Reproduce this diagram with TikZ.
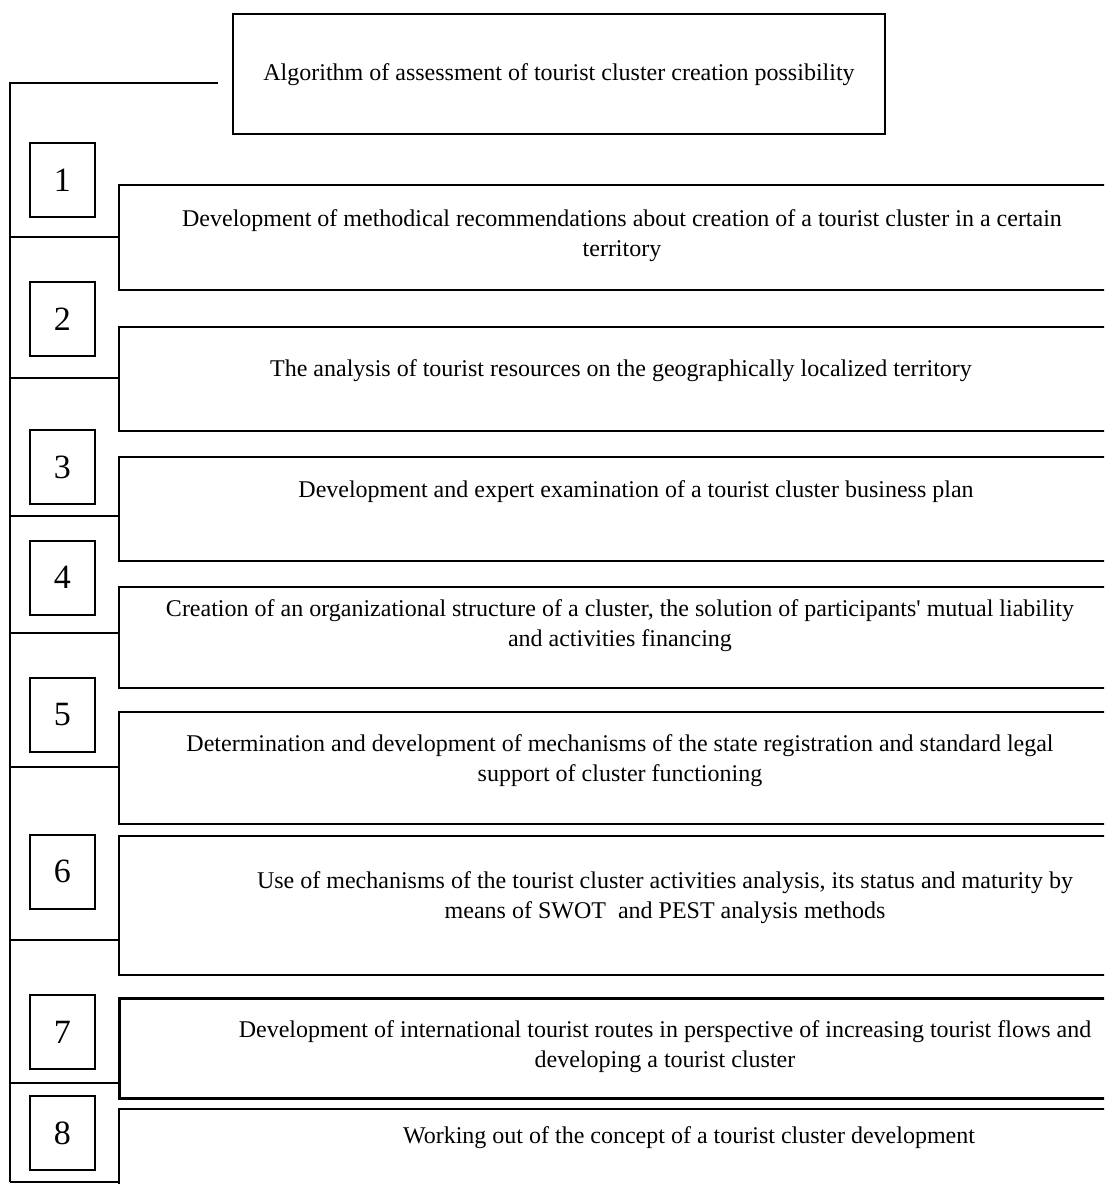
\documentclass[tikz,border=0pt]{standalone}
\usepackage{fontspec}
\setmainfont{Liberation Serif}
\usetikzlibrary{positioning}

\tikzset{
  frameLine/.style={line width=1pt},
  titleBox/.style={draw, frameLine, minimum width=326pt, minimum height=60pt,
    font=\fontsize{12}{15}\selectfont},
  stageBox/.style={draw, frameLine, anchor=north west, minimum width=560pt, inner sep=0pt},
  numBox/.style={draw, frameLine, minimum width=32.5pt, minimum height=37pt,
    font=\fontsize{17}{17}\selectfont},
  stageText/.style={align=center, inner sep=0pt, font=\fontsize{12}{15}\selectfont}
}

\begin{document}
\begin{tikzpicture}[x=0.5pt,y=-0.5pt]
  \useasboundingbox (0,0) rectangle (1104,1184);
  \clip (0,0) rectangle (1104,1184);
  % Title
  \node[titleBox, text depth=2pt] (title) at (559,74) {Algorithm of assessment of tourist cluster creation possibility};
  % Stages
  \node[stageBox, minimum height=52.5pt] (s1) at (118,184) {};
  \node[stageBox, minimum height=52pt] (s2) at (118,326) {};
  \node[stageBox, minimum height=52pt] (s3) at (118,456) {};
  \node[stageBox, minimum height=50.5pt] (s4) at (118,586) {};
  \node[stageBox, minimum height=56pt] (s5) at (118,711) {};
  \node[stageBox, minimum height=69.5pt] (s6) at (118,835) {};
  \node[stageBox, minimum height=50pt, line width=1.6pt] (s7) at (118,997) {};
  \node[stageBox, minimum height=100pt] (s8) at (118,1108) {};
  \node[stageText] (t1) at (622,236) {Development of methodical recommendations about creation of a tourist cluster in a certain\\territory};
  \node[stageText] (t2) at (621,371) {The analysis of tourist resources on the geographically localized territory};
  \node[stageText] (t3) at (636,492) {Development and expert examination of a tourist cluster business plan};
  \node[stageText] (t4) at (620,626) {Creation of an organizational structure of a cluster, the solution of participants\textquotesingle{} mutual liability\\and activities financing};
  \node[stageText] (t5) at (620,761) {Determination and development of mechanisms of the state registration and standard legal\\support of cluster functioning};
  \node[stageText] (t6) at (665,898) {Use of mechanisms of the tourist cluster activities analysis, its status and maturity by\\means of SWOT\ \ and PEST analysis methods};
  \node[stageText] (t7) at (665,1047) {Development of international tourist routes in perspective of increasing tourist flows and\\developing a tourist cluster};
  \node[stageText] (t8) at (689,1138) {Working out of the concept of a tourist cluster development};
  % Numbers
  \foreach \n/\y in {1/180,2/319,3/467,4/577.5,5/714.5,6/871.5,7/1032,8/1133}
    \node[numBox] (n\n) at (62.5,\y) {\n};
  % Spine
  \coordinate (topEnd) at (218,83);
  \coordinate (spineTop) at (10,83);
  \coordinate (spineBot) at (10,1182);
  \draw[frameLine] (topEnd) -- (spineTop) -- (spineBot);
  \foreach \n/\y in {1/237,2/378,3/516,4/633,5/767,6/940,7/1083,8/1182}{
    \coordinate (j\n) at (10,\y);
    \draw[frameLine] (j\n) -- (j\n -| s\n.west);
  }
\end{tikzpicture}
\end{document}
